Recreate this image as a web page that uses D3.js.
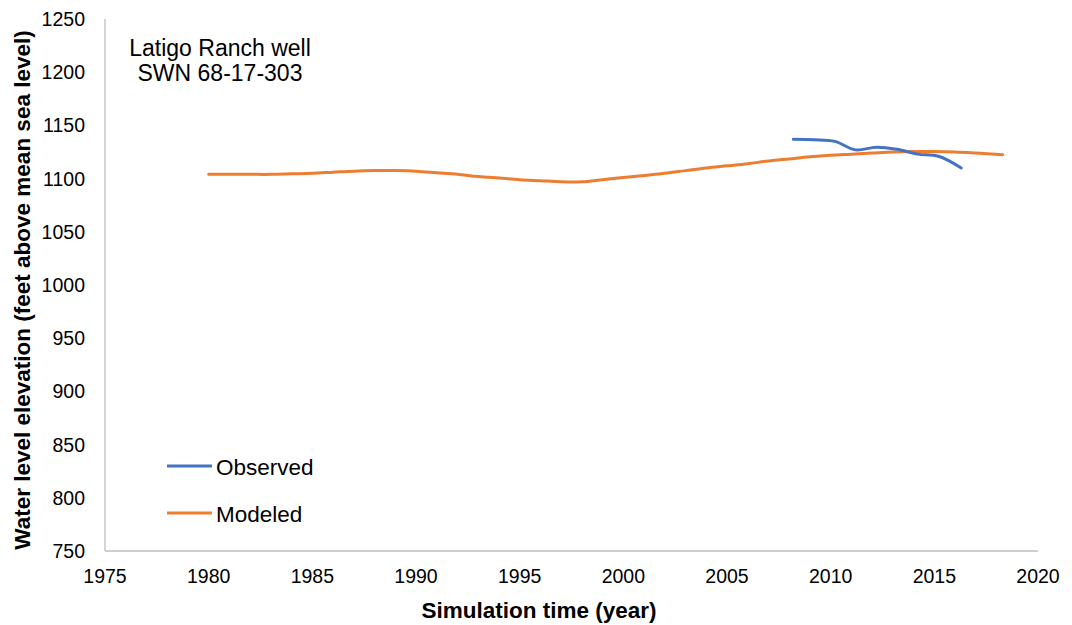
<!DOCTYPE html>
<html>
<head>
<meta charset="utf-8">
<script src="https://cdn.jsdelivr.net/npm/d3@7"></script>
<style>
  body { margin: 0; background: #fff; }
  svg { display: block; font-family: "Liberation Sans", Arial, sans-serif; }
</style>
</head>
<body>
<svg id="chart"></svg>
<script>
const modeledYears = [1980, 1981, 1982, 1983, 1984, 1985, 1986, 1987, 1988, 1989,
  1990, 1991, 1992, 1993, 1994, 1995, 1996, 1997, 1998, 1999,
  2000, 2001, 2002, 2003, 2004, 2005, 2006, 2007, 2008, 2009,
  2010, 2011, 2012, 2013, 2014, 2015, 2016, 2017, 2018.3];
const modeledValues = [1104, 1104, 1104, 1104, 1104.5, 1105, 1106, 1107, 1107.5, 1107.5,
  1107, 1105.5, 1104, 1102, 1100.5, 1099, 1098, 1097, 1097, 1099,
  1101, 1103, 1105, 1107.5, 1110, 1112, 1114, 1116.5, 1118.5, 1120.5,
  1122, 1123, 1124, 1125, 1125.5, 1125.5, 1125, 1124, 1122.5];
const observedYears = [2008.2, 2009.2, 2010.2, 2011.2, 2012.2, 2013.2, 2014.2, 2015.2, 2016.3];
const observedValues = [1137, 1136.5, 1135, 1127, 1129.5, 1127.5, 1123, 1121, 1110];
const xTicks = [1975, 1980, 1985, 1990, 1995, 2000, 2005, 2010, 2015, 2020];
const yTicks = [750, 800, 850, 900, 950, 1000, 1050, 1100, 1150, 1200, 1250];

const W = 1072, H = 625;
const svg = d3.select('#chart').attr('width', W).attr('height', H);

const x = d3.scaleLinear().domain([1975, 2020]).range([105, 1038]);
const y = d3.scaleLinear().domain([750, 1250]).range([551, 19]);

// Axis lines (no ticks)
svg.append('line').attr('x1', x(1975)).attr('x2', x(1975)).attr('y1', y(1250)).attr('y2', y(750))
  .attr('stroke', '#bfbfbf').attr('stroke-width', 1.3);
svg.append('line').attr('x1', x(1975)).attr('x2', x(2020)).attr('y1', y(750)).attr('y2', y(750))
  .attr('stroke', '#bfbfbf').attr('stroke-width', 1.3);

// Tick labels
svg.append('g').selectAll('text').data(yTicks).enter().append('text')
  .attr('x', 85).attr('y', d => y(d) + 7)
  .attr('text-anchor', 'end').attr('font-size', '19.5px').attr('fill', '#000')
  .text(d => d);
svg.append('g').selectAll('text').data(xTicks).enter().append('text')
  .attr('x', d => x(d)).attr('y', 583)
  .attr('text-anchor', 'middle').attr('font-size', '19.5px').attr('fill', '#000')
  .text(d => d);

// Axis titles
svg.append('text').attr('x', 539).attr('y', 618)
  .attr('text-anchor', 'middle').attr('font-size', '22.5px').attr('font-weight', 'bold')
  .text('Simulation time (year)');
svg.append('text').attr('transform', 'rotate(-90)').attr('x', -290).attr('y', 30)
  .attr('text-anchor', 'middle').attr('font-size', '22.5px').attr('font-weight', 'bold')
  .text('Water level elevation (feet above mean sea level)');

// Series
const line = d3.line().x(d => x(d[0])).y(d => y(d[1])).curve(d3.curveCatmullRom);
svg.append('path').datum(d3.zip(modeledYears, modeledValues))
  .attr('fill', 'none').attr('stroke', '#ED7D31').attr('stroke-width', 3)
  .attr('stroke-linecap', 'round').attr('d', line);
svg.append('path').datum(d3.zip(observedYears, observedValues))
  .attr('fill', 'none').attr('stroke', '#4472C4').attr('stroke-width', 3)
  .attr('stroke-linecap', 'round').attr('d', line);

// Annotation
svg.append('text').attr('x', 220).attr('y', 56).attr('text-anchor', 'middle')
  .attr('font-size', '23px').text('Latigo Ranch well');
svg.append('text').attr('x', 220).attr('y', 81).attr('text-anchor', 'middle')
  .attr('font-size', '23px').text('SWN 68-17-303');

// Legend
const legend = [{ name: 'Observed', color: '#4472C4', y: 466 }, { name: 'Modeled', color: '#ED7D31', y: 513 }];
const lg = svg.append('g').selectAll('g').data(legend).enter().append('g');
lg.append('line').attr('x1', 167).attr('x2', 212).attr('y1', d => d.y).attr('y2', d => d.y)
  .attr('stroke', d => d.color).attr('stroke-width', 3);
lg.append('text').attr('x', 216).attr('y', d => d.y + 8.5).attr('font-size', '22.5px').text(d => d.name);
</script>
</body>
</html>
